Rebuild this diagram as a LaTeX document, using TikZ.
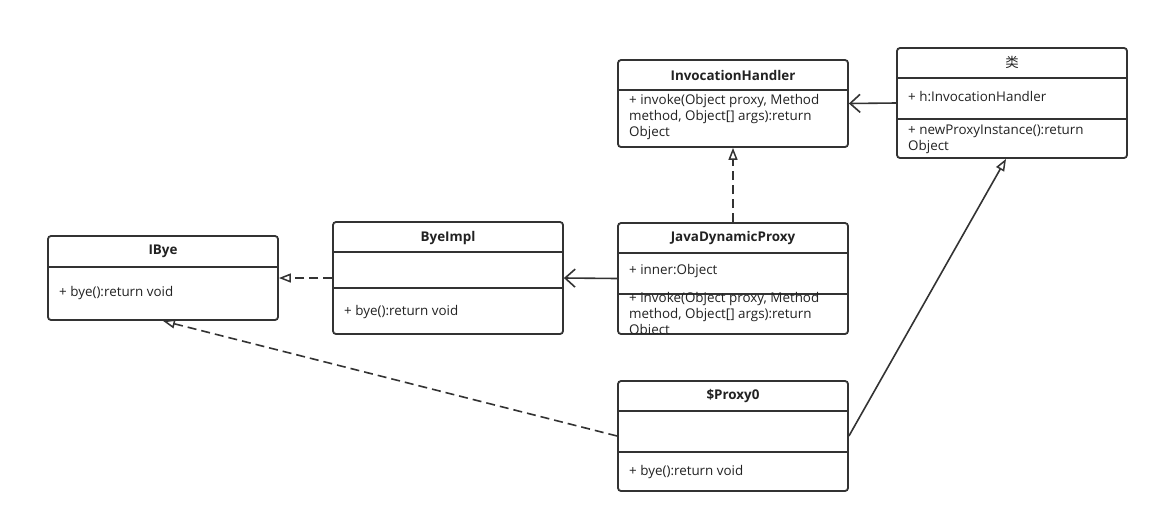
\documentclass[tikz,border=0pt]{standalone}
\usepackage{fontspec}
\setmainfont{Open Sans}
\newfontfamily\cjk{Noto Sans CJK SC}
\usetikzlibrary{arrows.meta,calc}
\definecolor{linec}{HTML}{333333}
\definecolor{textc}{HTML}{222222}
\begin{document}
\begin{tikzpicture}[x=1pt,y=-1pt,
  classbox/.style={draw=linec, line width=1.8pt, rounded corners=3pt, minimum width=230pt, inner sep=0pt, fill=white},
  divider/.style={draw=linec, line width=1.8pt},
  title/.style={font=\fontsize{13.4}{15}\selectfont\bfseries, text=textc, inner sep=0pt},
  member/.style={font=\fontsize{13.4}{16}\selectfont, text=textc, inner sep=0pt, anchor=west, align=left},
  conn/.style={draw=linec, line width=1.6pt},
  realize/.style={conn, dashed, dash pattern=on 9pt off 5pt, -{Triangle[open, length=12pt, width=9pt, line width=1.5pt]}},
  inherit/.style={conn, -{Triangle[open, length=12pt, width=9pt, line width=1.5pt]}},
  assoc/.style={conn, -{Straight Barb[length=10pt, width=18pt, line width=1.6pt]}}
]
\useasboundingbox[fill=white] (0,0) rectangle (1159,523);

% IBye
\node[classbox, minimum height=84pt] (ibye) at (163,278) {};
\draw[divider] (48,267) -- (278,267);
\node[title] (ibyet) at (163,251) {IBye};
\node[member] (ibyem) at (59,293) {+ bye():return void};

% ByeImpl
\node[classbox, minimum height=112pt] (bimpl) at (448,278) {};
\draw[divider] (333,252) -- (563,252);
\draw[divider] (333,288) -- (563,288);
\node[title] (bimplt) at (448,238) {ByeImpl};
\node[member] (bimplm) at (344,312) {+ bye():return void};

% InvocationHandler
\node[classbox, minimum height=87pt] (ih) at (733,103.5) {};
\draw[divider] (618,90) -- (848,90);
\node[title] (iht) at (733,75) {InvocationHandler};
\node[member] (ihm) at (629,117) {+ invoke(Object proxy, Method\\method, Object[] args):return\\Object};

% class 类
\node[classbox, minimum height=110pt] (cls) at (1012,103) {};
\draw[divider] (897,78) -- (1127,78);
\node[title] (clst) at (1012,62) {\cjk\mdseries 类};
\draw[divider] (897,119) -- (1127,119);
\node[member] (clsa) at (908,96) {+ h:InvocationHandler};
\node[member] (clsm) at (908,139) {+ newProxyInstance():return\\Object};

% JavaDynamicProxy
\node[classbox, minimum height=111pt] (jdp) at (733,278.5) {};
\draw[divider] (618,253) -- (848,253);
\draw[divider] (618,294) -- (848,294);
\node[title] (jdpt) at (733,238) {JavaDynamicProxy};
\node[member] (jdpa) at (629,271) {+ inner:Object};
\begin{scope}
  \clip (619,254) rectangle (847,333);
  \node[member] (jdpm) at (629,315) {+ invoke(Object proxy, Method\\method, Object[] args):return\\Object};
\end{scope}

% $Proxy0
\node[classbox, minimum height=110pt] (px) at (733,436) {};
\draw[divider] (618,411) -- (848,411);
\draw[divider] (618,452) -- (848,452);
\node[title] (pxt) at (733,396) {\$Proxy0};
\node[member] (pxm) at (629,472) {+ bye():return void};

% connectors
\draw[realize] (bimpl.west) -- (ibye.east);
\draw[assoc] (jdp.west) -- (bimpl.east);
\draw[realize] (jdp.north) -- (ih.south);
\draw[assoc] (cls.west) -- (ih.east);
\draw[inherit] (px.east) -- ($(cls.south)+(-6,0)$);
\draw[realize] (px.west) -- (ibye.south);
\end{tikzpicture}
\end{document}
